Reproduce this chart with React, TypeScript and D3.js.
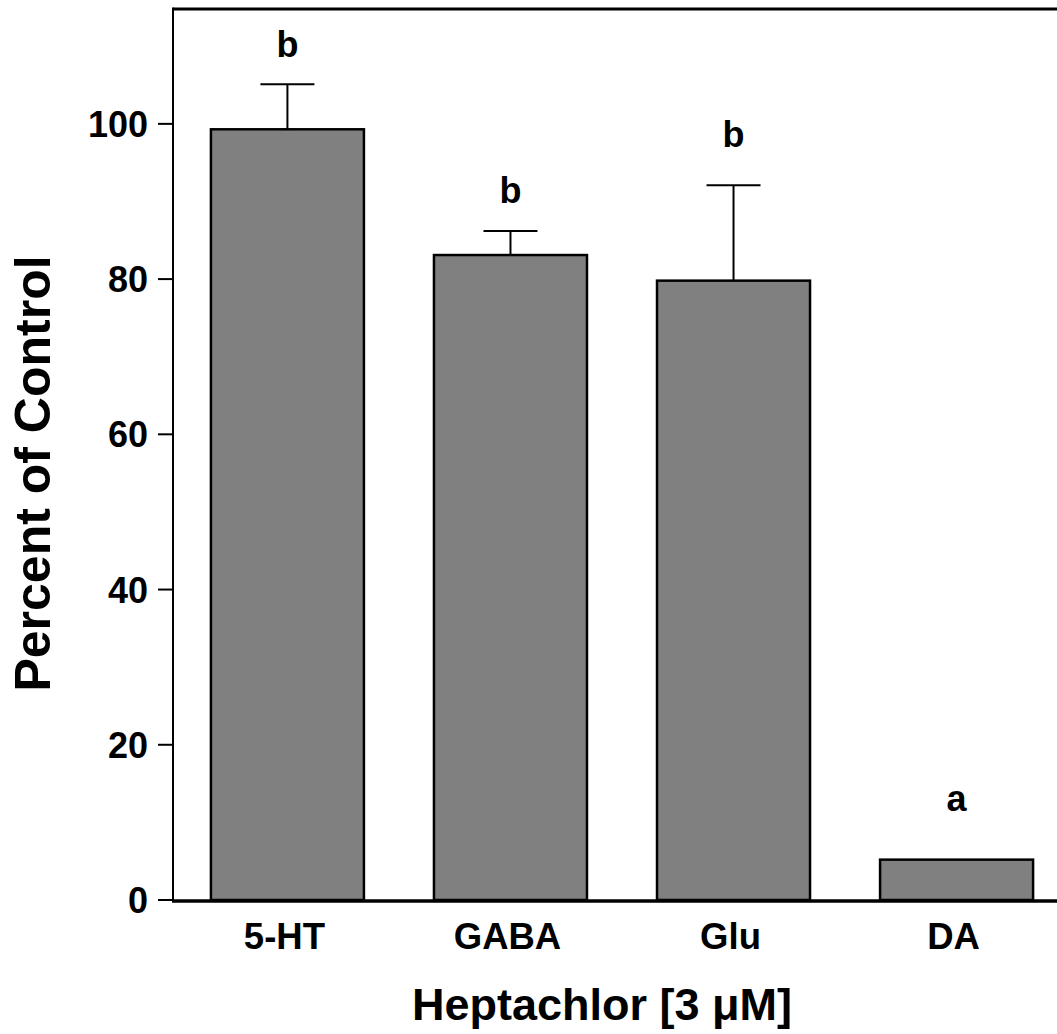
import * as d3 from "d3";

const categories = ["5-HT", "GABA", "Glu", "DA"];
const means = [99.3, 83.1, 79.8, 5.2];
const sems = [5.8, 3.1, 12.3, 0];
const sigLetters = ["b", "b", "b", "a"];
const letterLevels = [108.6, 89.8, 97.0, 11.5];
const yTicks = [0, 20, 40, 60, 80, 100];

const W = 1057;
const H = 1034;
const left = 173;
const top = 9;
const bottom = 900;
const font = "'Liberation Sans', Arial, Helvetica, sans-serif";

export default function App() {
  const y = d3.scaleLinear().domain([0, 114.8]).range([bottom, top]);
  const x = d3
    .scaleBand<string>()
    .domain(categories)
    .range([left, 1071])
    .paddingInner(0.314)
    .paddingOuter(0.17);
  const bw = x.bandwidth();
  const capW = 54;

  return (
    <svg
      width={W}
      height={H}
      style={{ position: "absolute", left: 0, top: 0, background: "#fff" }}
      fontFamily={font}
      fontWeight="bold"
    >
      {/* bars */}
      {categories.map((c, i) => {
        const cx = x(c)! + bw / 2;
        const yTop = y(means[i]);
        const yErr = y(means[i] + sems[i]);
        return (
          <g key={c}>
            {sems[i] > 0 && (
              <g stroke="#000" strokeWidth={2}>
                <line x1={cx} x2={cx} y1={yTop} y2={yErr} />
                <line x1={cx - capW / 2} x2={cx + capW / 2} y1={yErr} y2={yErr} />
              </g>
            )}
            <rect
              x={x(c)}
              y={yTop}
              width={bw}
              height={y(0) - yTop}
              fill="#808080"
              stroke="#000"
              strokeWidth={2.5}
            />
            <text x={cx} y={y(letterLevels[i])} textAnchor="middle" fontSize={36}>
              {sigLetters[i]}
            </text>
            <text x={cx - 3} y={949} textAnchor="middle" fontSize={36.5}>
              {c}
            </text>
          </g>
        );
      })}

      {/* frame */}
      <line x1={left} x2={W + 5} y1={top} y2={top} stroke="#000" strokeWidth={3} />
      <line x1={left} x2={left} y1={top - 1.5} y2={bottom + 1} stroke="#000" strokeWidth={2} />
      <line x1={left - 1} x2={W + 5} y1={bottom + 1} y2={bottom + 1} stroke="#000" strokeWidth={3.5} />

      {/* y ticks */}
      {yTicks.map((t) => (
        <g key={t} transform={`translate(0,${y(t)})`}>
          <line x1={left - 15} x2={left} stroke="#000" strokeWidth={2} />
          <text x={left - 25} dy="0.36em" textAnchor="end" fontSize={36}>
            {t}
          </text>
        </g>
      ))}

      {/* axis titles */}
      <text x={602} y={1020} textAnchor="middle" fontSize={45}>
        Heptachlor [3 μM]
      </text>
      <text
        transform={`translate(50,${(bottom + top) / 2 + 19}) rotate(-90)`}
        textAnchor="middle"
        fontSize={50}
      >
        Percent of Control
      </text>
    </svg>
  );
}
